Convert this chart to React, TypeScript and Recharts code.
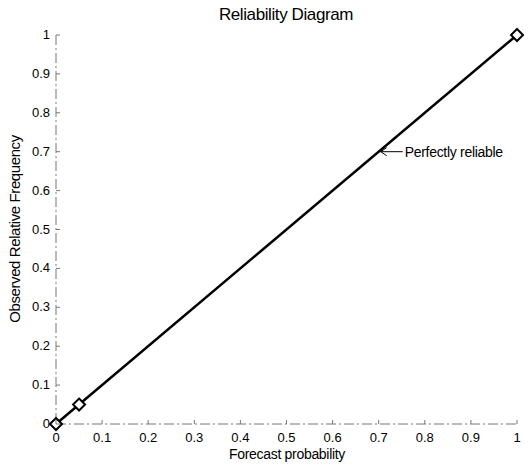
import React from 'react';
import {
    LineChart,
    Line,
    XAxis,
    YAxis,
    ReferenceDot,
} from 'recharts';

const forecast = [0, 0.05, 1];
const observed = [0, 0.05, 1];
const ticks = [0, 0.1, 0.2, 0.3, 0.4, 0.5, 0.6, 0.7, 0.8, 0.9, 1];
const tickLabels = ['0', '0.1', '0.2', '0.3', '0.4', '0.5', '0.6', '0.7', '0.8', '0.9', '1'];
const annotation = { x: 0.7, y: 0.7, text: 'Perfectly reliable' };

const data = forecast.map((x, i) => ({ x, y: observed[i] }));

const FONT = '"Liberation Sans", Arial, sans-serif';
const FRAME = '#777';
const TICK_LEN = 4;

const Diamond = ({ cx, cy }: any) => {
    if (cx == null || cy == null) return null;
    const r = 6;
    return (
        <path
            d={`M${cx},${cy - r} L${cx + r},${cy} L${cx},${cy + r} L${cx - r},${cy} Z`}
            fill="#fff"
            stroke="#000"
            strokeWidth={2}
        />
    );
};

const labelOf = (v: number) => tickLabels[ticks.indexOf(v)] ?? String(v);

const BottomTick = ({ x, y, payload }: any) => (
    <g>
        <line x1={x} y1={y} x2={x} y2={y - TICK_LEN} stroke={FRAME} />
        <text x={x} y={y + 18} textAnchor="middle" fontSize={13} fontFamily={FONT} fill="#000">
            {labelOf(payload.value)}
        </text>
    </g>
);

const LeftTick = ({ x, y, payload }: any) => (
    <g>
        <line x1={x} y1={y} x2={x + TICK_LEN} y2={y} stroke={FRAME} />
        <text x={x - 6} y={y + 4} textAnchor="end" fontSize={13} fontFamily={FONT} fill="#000">
            {labelOf(payload.value)}
        </text>
    </g>
);

const TopTick = ({ x, y }: any) => (
    <line x1={x} y1={y} x2={x} y2={y + TICK_LEN} stroke={FRAME} />
);

const RightTick = ({ x, y }: any) => (
    <line x1={x} y1={y} x2={x - TICK_LEN} y2={y} stroke={FRAME} />
);

const ArrowLabel = ({ cx, cy }: any) => {
    if (cx == null || cy == null) return null;
    return (
        <g>
            <line x1={cx + 2} y1={cy} x2={cx + 24} y2={cy} stroke="#000" strokeWidth={1} />
            <path d={`M${cx + 8},${cy - 4} L${cx + 2},${cy} L${cx + 8},${cy + 4}`} fill="none" stroke="#000" strokeWidth={1} />
            <text x={cx + 26} y={cy + 5} fontSize={14} fontFamily={FONT} fill="#000" letterSpacing={-0.3}>
                {annotation.text}
            </text>
        </g>
    );
};

const axisLine = { stroke: FRAME, strokeDasharray: '10 3 2 3' };

export default function App() {
    return (
        <div style={{ position: 'absolute', left: 0, top: 0, width: 532, height: 469, background: '#fff' }}>
            <LineChart
                width={532}
                height={469}
                data={data}
                margin={{ top: 35, right: 15, bottom: 0, left: 0 }}
            >
                <XAxis
                    xAxisId="bottom"
                    dataKey="x"
                    type="number"
                    domain={[0, 1]}
                    ticks={ticks}
                    interval={0}
                    height={45}
                    axisLine={axisLine}
                    tickLine={false}
                    tickSize={0}
                    tickMargin={0}
                    tick={<BottomTick />}
                />
                <XAxis
                    xAxisId="top"
                    orientation="top"
                    dataKey="x"
                    type="number"
                    domain={[0, 1]}
                    ticks={ticks}
                    interval={0}
                    height={0}
                    axisLine={axisLine}
                    tickLine={false}
                    tickSize={0}
                    tickMargin={0}
                    tick={<TopTick />}
                />
                <YAxis
                    yAxisId="left"
                    type="number"
                    domain={[0, 1]}
                    ticks={ticks}
                    interval={0}
                    width={56}
                    axisLine={axisLine}
                    tickLine={false}
                    tickSize={0}
                    tickMargin={0}
                    tick={<LeftTick />}
                />
                <YAxis
                    yAxisId="right"
                    orientation="right"
                    type="number"
                    domain={[0, 1]}
                    ticks={ticks}
                    interval={0}
                    width={0}
                    axisLine={axisLine}
                    tickLine={false}
                    tickSize={0}
                    tickMargin={0}
                    tick={<RightTick />}
                />
                <Line
                    xAxisId="bottom"
                    yAxisId="left"
                    type="linear"
                    dataKey="y"
                    stroke="#000"
                    strokeWidth={2.5}
                    dot={<Diamond />}
                    activeDot={false}
                    isAnimationActive={false}
                />
                <ReferenceDot
                    xAxisId="bottom"
                    yAxisId="left"
                    x={annotation.x}
                    y={annotation.y}
                    r={0}
                    shape={<ArrowLabel />}
                />
                <text x={286} y={20} textAnchor="middle" fontSize={17} fontFamily={FONT} letterSpacing={-0.4} fill="#000">
                    Reliability Diagram
                </text>
                <text x={287} y={459} textAnchor="middle" fontSize={14} fontFamily={FONT} letterSpacing={-0.3} fill="#000">
                    Forecast probability
                </text>
                <text
                    x={20}
                    y={229}
                    textAnchor="middle"
                    fontSize={15}
                    fontFamily={FONT}
                    letterSpacing={-0.4}
                    fill="#000"
                    transform="rotate(-90 20 229)"
                >
                    Observed Relative Frequency
                </text>
            </LineChart>
        </div>
    );
}
